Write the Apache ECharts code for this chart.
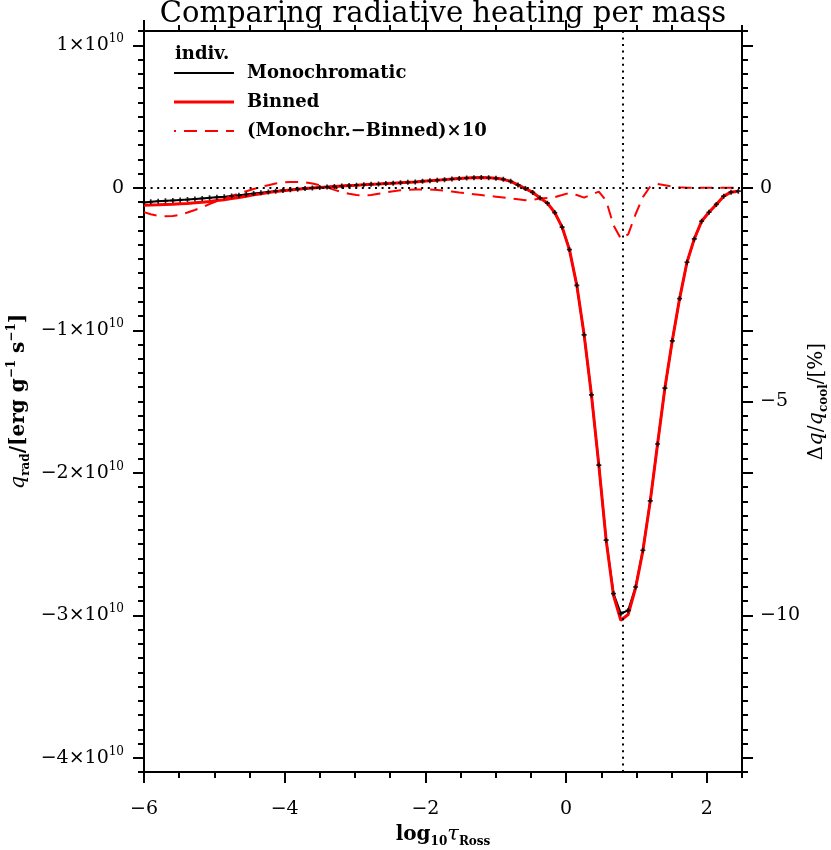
<!DOCTYPE html>
<html>
<head>
<meta charset="utf-8">
<script src="https://cdn.jsdelivr.net/npm/echarts@6/dist/echarts.min.js"></script>
<style>
  html, body { margin: 0; padding: 0; background: #fff; }
  #chart { width: 831px; height: 850px; }
</style>
</head>
<body>
<div id="chart"></div>
<script>
// log10 tau_Ross of the depth points
const tau = [
  -6.000, -5.904, -5.799, -5.695, -5.590, -5.486, -5.382, -5.277, -5.173, -5.068,
  -4.964, -4.860, -4.755, -4.651, -4.546, -4.442, -4.338, -4.233, -4.129, -4.024,
  -3.920, -3.816, -3.711, -3.607, -3.502, -3.398, -3.294, -3.189, -3.085, -2.980,
  -2.876, -2.772, -2.667, -2.563, -2.458, -2.354, -2.250, -2.145, -2.041, -1.936,
  -1.832, -1.728, -1.623, -1.519, -1.414, -1.310, -1.206, -1.101, -0.997, -0.892,
  -0.788, -0.684, -0.579, -0.475, -0.370, -0.266, -0.162, -0.057, 0.047, 0.152,
  0.256, 0.360, 0.465, 0.569, 0.674, 0.778, 0.882, 0.987, 1.091, 1.196,
  1.300, 1.404, 1.509, 1.613, 1.718, 1.822, 1.926, 2.031, 2.135, 2.240,
  2.344, 2.448
];
// q_rad in units of 1e10 erg/g/s
const qMono = [
  -0.103, -0.099, -0.095, -0.092, -0.089, -0.086, -0.083, -0.079, -0.075, -0.071,
  -0.067, -0.063, -0.058, -0.053, -0.047, -0.041, -0.035, -0.029, -0.024, -0.019,
  -0.014, -0.010, -0.006, -0.002, 0.002, 0.006, 0.009, 0.012, 0.015, 0.018,
  0.021, 0.024, 0.026, 0.029, 0.032, 0.035, 0.038, 0.041, 0.045, 0.049,
  0.053, 0.057, 0.061, 0.065, 0.068, 0.071, 0.072, 0.070, 0.066, 0.059,
  0.045, 0.020, -0.006, -0.033, -0.072, -0.108, -0.174, -0.276, -0.434, -0.685,
  -1.032, -1.454, -1.946, -2.473, -2.848, -2.989, -2.966, -2.802, -2.544, -2.197,
  -1.798, -1.406, -1.074, -0.778, -0.523, -0.359, -0.235, -0.172, -0.117, -0.059,
  -0.031, -0.024
];
const qBinned = [
  -0.122, -0.121, -0.120, -0.118, -0.116, -0.113, -0.110, -0.106, -0.101, -0.096,
  -0.090, -0.084, -0.076, -0.068, -0.059, -0.050, -0.042, -0.034, -0.027, -0.021,
  -0.015, -0.010, -0.006, -0.002, 0.002, 0.006, 0.009, 0.012, 0.015, 0.018,
  0.021, 0.024, 0.026, 0.029, 0.032, 0.035, 0.038, 0.041, 0.045, 0.049,
  0.053, 0.057, 0.061, 0.065, 0.068, 0.071, 0.072, 0.070, 0.066, 0.059,
  0.045, 0.020, -0.006, -0.033, -0.072, -0.108, -0.174, -0.276, -0.434, -0.685,
  -1.032, -1.454, -1.946, -2.473, -2.862, -3.035, -2.995, -2.810, -2.548, -2.199,
  -1.798, -1.406, -1.074, -0.778, -0.523, -0.359, -0.235, -0.172, -0.117, -0.059,
  -0.031, -0.024
];
// (Monochr. - Binned) x 10, in percent of q_cool
const dqPct = [
  -0.57, -0.62, -0.655, -0.665, -0.66, -0.63, -0.58, -0.52, -0.46, -0.38,
  -0.31, -0.25, -0.19, -0.13, -0.08, -0.03, 0.02, 0.06, 0.10, 0.125,
  0.135, 0.135, 0.125, 0.10, 0.06, 0.01, -0.05, -0.10, -0.14, -0.17,
  -0.18, -0.17, -0.14, -0.11, -0.08, -0.06, -0.05, -0.04, -0.04, -0.04,
  -0.05, -0.07, -0.09, -0.11, -0.13, -0.15, -0.17, -0.19, -0.21, -0.23,
  -0.25, -0.27, -0.29, -0.28, -0.25, -0.24, -0.22, -0.17, -0.12, -0.17,
  -0.23, -0.16, -0.09, -0.30, -0.88, -1.19, -1.09, -0.62, -0.22, 0.03,
  0.09, 0.06, 0.03, 0.01, 0.0, 0.0, 0.0, 0.0, 0.0, 0.0,
  0.0, 0.0
];
const xMajor = [-6, -4, -2, 0, 2];
const yMajor = [-4, -3, -2, -1, 0, 1];
const pctLabels = [0, -5, -10];
const pctTicks = [10 / 3, 0, -10 / 3, -5, -20 / 3, -10, -40 / 3];
const tauMark = 0.8;

const serif = '"DejaVu Serif", "Liberation Serif", serif';
const black = '#000';
const red = '#ff0000';
const minus = '\u2212';

const pairs = ys => tau.map((t, i) => [t, ys[i]]);
const signed = v => (v < 0 ? minus : '') + Math.abs(v);

function sciLabel(v) {
  if (v === 0) return '0';
  return '{m|' + signed(v) + '\u00d710}{s|10}';
}

const tickStyle = { color: black, width: 2 };
const lineOn = { show: true, onZero: false, lineStyle: { color: black, width: 2 } };
const lineOff = { show: false, onZero: false };
const noLabel = { show: false };
const tickFont = { color: black, fontFamily: serif, fontSize: 19 };

const subRich = {
  b: { fontFamily: serif, fontWeight: 'bold', fontSize: 20, color: black, lineHeight: 26 },
  r: { fontFamily: serif, fontSize: 20, color: black, lineHeight: 26 },
  i: { fontFamily: serif, fontStyle: 'italic', fontSize: 21, color: black, lineHeight: 26 },
  bs: { fontFamily: serif, fontWeight: 'bold', fontSize: 12, color: black, verticalAlign: 'bottom', lineHeight: 12 },
  sup: { fontFamily: serif, fontWeight: 'bold', fontSize: 12, color: black, verticalAlign: 'top', lineHeight: 12 }
};

const baseX = { type: 'value', min: -6, max: 2.5, splitLine: { show: false } };
const baseY = { type: 'value', min: -4.1, max: 1.1, splitLine: { show: false } };

const option = {
  animation: false,
  backgroundColor: '#fff',
  grid: { left: 144, right: 89, top: 31, bottom: 78, outerBoundsMode: 'none' },
  xAxis: [
    {
      ...baseX, position: 'bottom', axisLine: lineOn,
      axisTick: { customValues: xMajor, length: 11, lineStyle: tickStyle },
      axisLabel: { ...tickFont, customValues: xMajor, margin: 28, formatter: v => signed(v) },
      name: '{b|log}{bs|10}{i|\u03c4}{bs|Ross}', nameLocation: 'middle', nameGap: 50,
      nameMoveOverlap: false,
      nameTextStyle: { rich: subRich }
    },
    { ...baseX, position: 'bottom', interval: 0.5, axisLine: lineOff,
      axisTick: { length: 6, lineStyle: tickStyle }, axisLabel: noLabel },
    { ...baseX, position: 'top', axisLine: lineOn,
      axisTick: { customValues: xMajor, length: 11, lineStyle: tickStyle }, axisLabel: noLabel },
    { ...baseX, position: 'top', interval: 0.5, axisLine: lineOff,
      axisTick: { length: 6, lineStyle: tickStyle }, axisLabel: noLabel }
  ],
  yAxis: [
    {
      ...baseY, position: 'left', axisLine: lineOn,
      axisTick: { customValues: yMajor, length: 11, lineStyle: tickStyle },
      axisLabel: {
        ...tickFont, customValues: yMajor, margin: 20, formatter: sciLabel,
        rich: {
          m: { fontFamily: serif, fontSize: 19, color: black, lineHeight: 24 },
          s: { fontFamily: serif, fontSize: 12, color: black, verticalAlign: 'top', lineHeight: 12 }
        }
      },
      name: '{i|q}{bs|rad}{b|/[erg g}{sup|\u22121}{b| s}{sup|\u22121}{b|]}',
      nameLocation: 'middle', nameGap: 112, nameRotate: 90, nameMoveOverlap: false,
      nameTextStyle: { rich: subRich }
    },
    { ...baseY, position: 'left', interval: 0.1, axisLine: lineOff,
      axisTick: { length: 6, lineStyle: tickStyle }, axisLabel: noLabel },
    { ...baseY, position: 'right', interval: 0.1, axisLine: lineOn,
      axisTick: { length: 6, lineStyle: tickStyle }, axisLabel: noLabel },
    {
      type: 'value', min: -41 / 3, max: 11 / 3, position: 'right',
      splitLine: { show: false }, axisLine: lineOff,
      axisTick: { customValues: pctTicks, length: 11, lineStyle: tickStyle },
      axisLabel: { ...tickFont, customValues: pctLabels, margin: 18, formatter: v => signed(v) },
      name: '{r|\u0394}{i|q}{r|/}{i|q}{bs|cool}{r|/[%]}',
      nameLocation: 'middle', nameGap: 62, nameRotate: 90, nameMoveOverlap: false,
      nameTextStyle: { rich: subRich }
    }
  ],
  series: [
    {
      name: 'Monochromatic', type: 'line', xAxisIndex: 0, yAxisIndex: 0,
      data: pairs(qMono), symbol: 'none', z: 2,
      lineStyle: { color: black, width: 2 },
      markLine: {
        silent: true, symbol: 'none', label: { show: false },
        lineStyle: { color: black, width: 2, type: [2, 4.6] },
        data: [{ yAxis: 0 }, { xAxis: tauMark }]
      }
    },
    {
      name: 'Binned', type: 'line', xAxisIndex: 0, yAxisIndex: 0,
      data: pairs(qBinned), symbol: 'none', z: 3,
      lineStyle: { color: red, width: 3 }
    },
    {
      name: 'depth points', type: 'scatter', xAxisIndex: 0, yAxisIndex: 0,
      data: pairs(qMono), z: 4, silent: true,
      symbol: 'path://M1,0h1v1h1v1h-1v1h-1v-1h-1v-1h1z', symbolSize: 5,
      itemStyle: { color: black, opacity: 0.85 }
    },
    {
      name: '(Monochr.-Binned)x10', type: 'line', xAxisIndex: 0, yAxisIndex: 3,
      data: pairs(dqPct), symbol: 'none', z: 3,
      lineStyle: { color: red, width: 2, type: [13, 8] }
    }
  ],
  graphic: [
    { type: 'text', x: 443, y: 14, z: 10,
      style: { text: 'Comparing radiative heating per mass', fill: black,
        font: '29px ' + serif, textAlign: 'center', textVerticalAlign: 'middle' } },
    { type: 'text', x: 175, y: 54, z: 10,
      style: { text: 'indiv.', fill: black, font: 'bold 18px ' + serif, textVerticalAlign: 'middle' } },
    { type: 'line', z: 10, shape: { x1: 174, y1: 73, x2: 234, y2: 73 },
      style: { stroke: black, lineWidth: 2 } },
    { type: 'text', x: 247, y: 73, z: 10,
      style: { text: 'Monochromatic', fill: black, font: 'bold 18px ' + serif, textVerticalAlign: 'middle' } },
    { type: 'line', z: 10, shape: { x1: 174, y1: 102, x2: 234, y2: 102 },
      style: { stroke: red, lineWidth: 3 } },
    { type: 'text', x: 247, y: 102, z: 10,
      style: { text: 'Binned', fill: black, font: 'bold 18px ' + serif, textVerticalAlign: 'middle' } },
    { type: 'line', z: 10, shape: { x1: 174, y1: 131, x2: 234, y2: 131 },
      style: { stroke: red, lineWidth: 2, lineDash: [13, 8], lineDashOffset: 11 } },
    { type: 'text', x: 247, y: 131, z: 10,
      style: { text: '(Monochr.' + minus + 'Binned)\u00d710', fill: black, font: 'bold 18px ' + serif, textVerticalAlign: 'middle' } }
  ]
};

const chart = echarts.init(document.getElementById('chart'));
chart.setOption(option);
</script>
</body>
</html>
